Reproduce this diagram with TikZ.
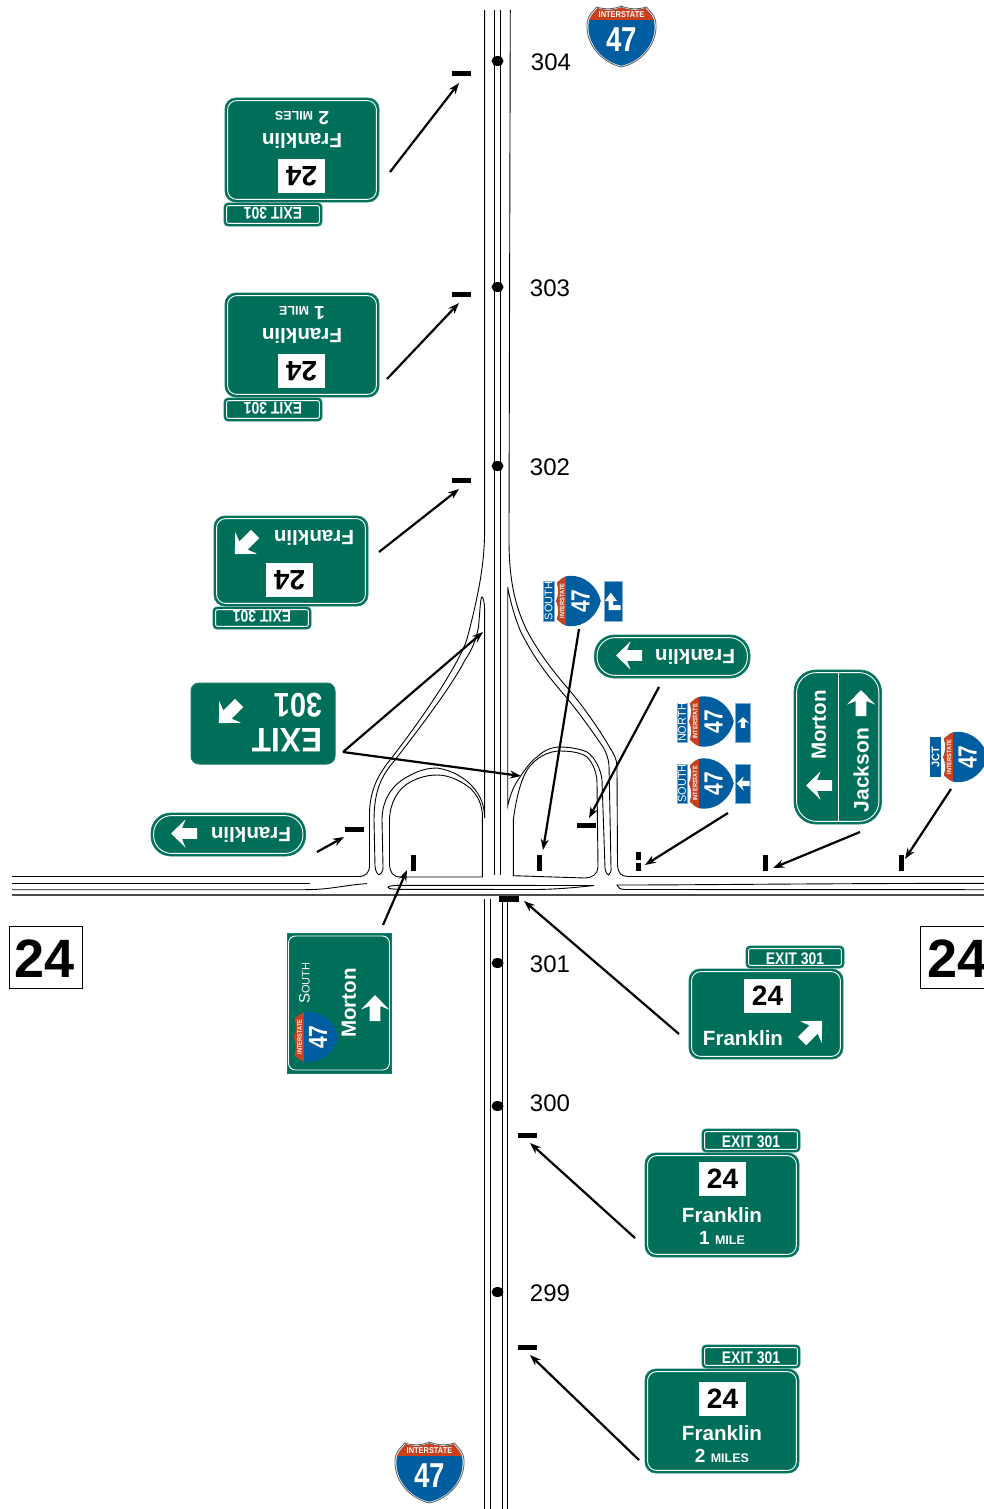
\documentclass[tikz,border=0pt]{standalone}
\usepackage{graphicx}
\usepackage{fontspec}
\setmainfont{Liberation Sans}
\usetikzlibrary{arrows.meta,shapes.geometric}
\definecolor{signgreen}{RGB}{0,111,89}
\definecolor{signedge}{RGB}{20,125,105}
\definecolor{ishieldblue}{RGB}{0,93,160}
\definecolor{ishieldred}{RGB}{200,64,30}
\definecolor{labeledge}{RGB}{130,175,215}
\newcommand{\fsz}[1]{\fontsize{#1}{#1}\selectfont}
\tikzset{
  road/.style={line width=0.9pt,black},
  pointer/.style={line width=2.2pt,black,-{Stealth[length=11pt,width=8pt]}},
  tickh/.style={fill=black,inner sep=0pt,minimum width=19pt,minimum height=5pt},
  tickv/.style={fill=black,inner sep=0pt,minimum width=5pt,minimum height=16pt},
  milelab/.style={font=\fsz{24},inner sep=0pt},
  milepost/.style={fill=black,ellipse,inner sep=0pt,minimum width=12pt,minimum height=10pt},
  signtext/.style={text=white,inner sep=0pt,font=\bfseries\fsz{20.6}},
  boxtext/.style={text=black,fill=white,inner sep=0pt,minimum width=47pt,minimum height=34pt,font=\bfseries\fsz{28}},
  exittext/.style={text=white,inner sep=0pt,font=\bfseries\fsz{16.8}},
  panel/.style={fill=signgreen,draw=signedge,line width=0.8pt},
  panelring/.style={draw=white,line width=0.9pt},
  routelabel/.style={text=white,inner sep=0pt,rotate=90,font=\fsz{11}},
  bigroute/.style={draw=black,line width=0.8pt,fill=white},
  bignum/.style={inner sep=0pt,font=\bfseries\fsz{54}},
}
% white block arrow, pointing up in local coordinates
\newcommand{\RSarrow}[4]{\begin{scope}[shift={(#1,#2)},rotate=#3,scale=#4]
  \fill[white] (0,-13) -- (14,1.5) -- (5.3,-2) -- (5.3,13) -- (-5.3,13) -- (-5.3,-2) -- (-14,1.5) -- cycle;
\end{scope}}
% panel with inner ring: x1 y1 x2 y2 radius
\newcommand{\RSpanel}[5]{%
  \pgfmathsetmacro{\xa}{#1+2.6}\pgfmathsetmacro{\ya}{#2+2.6}\pgfmathsetmacro{\xb}{#3-2.6}\pgfmathsetmacro{\yb}{#4-2.6}%
  \pgfmathsetmacro{\rr}{#5-2}%
  \draw[panel,rounded corners=#5pt] (#1,#2) rectangle (#3,#4);
  \draw[panelring,rounded corners=\rr pt] (\xa,\ya) rectangle (\xb,\yb);}
% interstate shield
\def\shieldpath{(-25,-29.5) .. controls (-17,-27) and (-8,-27) .. (0,-30.5) .. controls (8,-27) and (17,-27) .. (25,-29.5) .. controls (28,-25) and (34,-22) .. (34.5,-12) .. controls (35.5,8) and (20,26) .. (0,30.5) .. controls (-20,26) and (-35.5,8) .. (-34.5,-12) .. controls (-34,-22) and (-28,-25) .. (-25,-29.5) -- cycle}
\newcommand{\RSshield}[5]{\begin{scope}[shift={(#2,#3)},rotate=#4,scale=#5,transform shape]
  \fill[ishieldblue] \shieldpath;
  \begin{scope}\clip \shieldpath; \fill[ishieldred] (-40,-35) rectangle (40,-17); \end{scope}
  \node[inner sep=0pt,text=white] (#1i) at (0,-22.5) {\bfseries\fsz{8.8}\scalebox{0.88}[1]{INTERSTATE}};
  \node[inner sep=0pt,text=white] (#1n) at (0,3) {\bfseries\fsz{36}\scalebox{0.8}[1]{47}};
\end{scope}}
\newcommand{\RSoutline}[2]{\begin{scope}[shift={(#1,#2)},scale=1]
  \draw[black!65,line width=0.8pt] \shieldpath;
\end{scope}}
% exit sign, tall version: name x y rot text boxy franklin-y line3-y
\newcommand{\RSexit}[8]{\begin{scope}[shift={(#2,#3)},rotate=#4]
  \RSpanel{-20}{-76}{78}{-53}{4}
  \node[exittext,rotate=#4] (#1e) at (29,-63) {\scalebox{0.83}[1]{EXIT 301}};
  \RSpanel{-77}{-52}{77}{52}{11}
  \node[boxtext,rotate=#4] (#1b) at (0.5,#6) {24};
  \node[signtext,rotate=#4] (#1f) at (0,#7) {Franklin};
  \node[signtext,rotate=#4,font=\bfseries\fsz{19}] (#1m) at (0,#8) {#5};
\end{scope}}
% exit sign with arrow: name x y rot boxy franklin-y
\newcommand{\RSexitarrow}[6]{\begin{scope}[shift={(#2,#3)},rotate=#4]
  \RSpanel{-20}{-68}{78}{-46}{4}
  \node[exittext,rotate=#4] (#1e) at (29,-55.5) {\scalebox{0.83}[1]{EXIT 301}};
  \RSpanel{-77}{-45}{77}{45}{11}
  \node[boxtext,rotate=#4] (#1b) at (1.5,#5) {24};
  \node[signtext,rotate=#4] (#1f) at (-23,#6) {Franklin};
  \RSarrow{46}{17}{-45}{1.1}
\end{scope}}
\begin{document}
\begin{tikzpicture}[x=1pt,y=-1pt]
\useasboundingbox (0,0) rectangle (984,1509);
\clip (0,0) rectangle (984,1509);
\fill[white] (0,0) rectangle (984,1509);

% ---------- roads
% north-south main line
\draw[road] (494.2,10) -- (494.2,875);
\draw[road] (500.4,10) -- (500.4,875);
\draw[road] (484.6,899) -- (484.6,1509);
\draw[road] (490.7,899) -- (490.7,1509);
\draw[road] (502.6,899) -- (502.6,1509);
\draw[road] (507.7,899) -- (507.7,1509);
% west-east main line
\draw[road] (12,883.2) -- (310,883.2);
\draw[road] (12,889.7) -- (305,889.7) .. controls (330,889.7) and (345,885) .. (367,883.6);
\draw[road,line width=1.4pt,black!70] (12,894.8) -- (984,894.8);
% left outer edge with ramp
\draw[road] (484.6,10) -- (484.6,530) .. controls (484.6,560) and (480,590) .. (466.7,640)
  .. controls (458,665) and (425,715) .. (390,760)
  .. controls (378,775) and (370,790) .. (369.5,813)
  -- (369.5,865) .. controls (369.5,873) and (366,876.5) .. (358,876.5) -- (12,876.5);
% left ramp gore and outer loop
\draw[road] (484.6,818) -- (484.6,610) .. controls (484.6,602) and (483,597) .. (482,597)
  .. controls (480.5,597) and (480,610) .. (478.5,627)
  .. controls (476,640) and (472,650) .. (465,660)
  .. controls (455,680) and (430,715) .. (395,760)
  .. controls (382,775) and (374,790) .. (374,820)
  -- (375,866) .. controls (375.5,872) and (378,875) .. (379.3,874.5)
  .. controls (381,874) and (383.5,871) .. (383,866)
  -- (382,820) .. controls (382,800) and (392,785) .. (407,777)
  .. controls (417,771) and (427,768) .. (437,768)
  .. controls (452,770) and (465,778) .. (473,787)
  .. controls (480,795) and (484.6,805) .. (484.6,818);
% left inner loop
\draw[road] (389.5,865) .. controls (390,872) and (393,877) .. (400,877) -- (482.3,877) -- (482.3,813)
  .. controls (481,800) and (475,793) .. (470,788)
  .. controls (460,780) and (448,775) .. (437,775)
  .. controls (425,775) and (415,779) .. (407,784)
  .. controls (397,791) and (390,803) .. (389.5,820) -- cycle;
% right outer edge with ramp
\draw[road] (510.3,10) -- (509,530) .. controls (508.5,570) and (512,600) .. (526.7,630)
  .. controls (537,650) and (552,670) .. (566.7,687)
  .. controls (583,706) and (600,730) .. (613,753)
  .. controls (616,758) and (617,762) .. (617,770)
  -- (617.5,865) .. controls (618,873) and (621,876.5) .. (628,876.5) -- (984,876.5);
% right ramp gore and outer loop
\draw[road] (507.7,587) -- (507.7,806) .. controls (510,795) and (514,785) .. (520,777)
  .. controls (526,768) and (532,760) .. (537,757)
  .. controls (544,750) and (552,747) .. (560,747)
  .. controls (570,747) and (580,749) .. (587,752)
  .. controls (595,757) and (601,770) .. (602,780)
  -- (605,868) .. controls (605.5,872) and (607,874.5) .. (608.5,875)
  .. controls (610.5,874) and (611.5,871) .. (611,867)
  -- (609,765) .. controls (608,757) and (606,752) .. (603,747)
  .. controls (590,728) and (575,707) .. (560,690)
  .. controls (545,672) and (532,655) .. (520,630)
  .. controls (514,615) and (510,600) .. (507.7,587);
% right inner loop
\draw[road] (513.3,875.7) -- (513.3,820) .. controls (516,800) and (520,782) .. (527,770)
  .. controls (535,758) and (548,751) .. (560,751)
  .. controls (572,751) and (582,753) .. (587,757)
  .. controls (593,763) and (597,773) .. (597,783)
  -- (598,867) .. controls (598,874) and (592,878) .. (585,878) -- cycle;
% median wedges at the crossing
\draw[road] (594,885.5) -- (400,885.3) .. controls (392,885.5) and (388,886) .. (388,887.3)
  .. controls (388,888.5) and (392,889.3) .. (400,889.3) -- (535,889.5) .. controls (560,889.3) and (580,887) .. (594,885.5);
\draw[road] (984,883.3) .. controls (800,883.5) and (700,885) .. (617,885) .. controls (618,888) and (620,889.3) .. (625,889.5) -- (984,889.7);

% ---------- mileposts
\foreach \n/\yy in {a/61,b/287,c/466,d/963,e/1106,f/1292}
  \node[milepost] (post\n) at (497.5,\yy) {};
\node[milelab] (m304) at (551,62.5) {304};
\node[milelab] (m303) at (550,288.5) {303};
\node[milelab] (m302) at (550,467.5) {302};
\node[milelab] (m301) at (550,964.5) {301};
\node[milelab] (m300) at (550,1103.5) {300};
\node[milelab] (m299) at (550,1293.5) {299};

% ---------- sign position ticks
\node[tickh] (t1) at (461,73.5) {};
\node[tickh] (t2) at (461,294) {};
\node[tickh] (t3) at (461,480.5) {};
\node[tickh] (t6) at (354.5,829.5) {};
\node[tickh] (t8) at (586.5,825) {};
\node[tickh] (t14) at (527.5,1135) {};
\node[tickh] (t15) at (527.5,1347.5) {};
\node[tickh,minimum width=20pt,minimum height=6pt] (t13) at (508.5,898.5) {};
\node[tickv] (t12) at (413,863) {};
\node[tickv] (t7) at (539,863) {};
\node[tickv,minimum height=8pt] (t9a) at (638,856) {};
\node[tickv,minimum height=8pt] (t9b) at (638,867) {};
\node[tickv] (t10) at (765,863) {};
\node[tickv] (t11) at (901,863) {};

% ---------- pointers
\coordinate (p1s) at (390,172);   \coordinate (p1e) at (459,83);
\coordinate (p2s) at (387,379);   \coordinate (p2e) at (459,303);
\coordinate (p3s) at (379,552);   \coordinate (p3e) at (459,489);
\coordinate (p4s) at (343,752);   \coordinate (p4e) at (483,632);   \coordinate (p5e) at (521,776);
\coordinate (p6s) at (317,852);   \coordinate (p6e) at (344,837);
\coordinate (p7s) at (579,629);   \coordinate (p7e) at (543,850);
\coordinate (p8s) at (659,687);   \coordinate (p8e) at (589,818);
\coordinate (p9s) at (728,813);   \coordinate (p9e) at (645,865);
\coordinate (p10s) at (860,832);  \coordinate (p10e) at (773,868);
\coordinate (p11s) at (951,789);  \coordinate (p11e) at (905,859);
\coordinate (p12s) at (383,925);  \coordinate (p12e) at (407,870);
\coordinate (p13s) at (679,1034); \coordinate (p13e) at (524,901);
\coordinate (p14s) at (635,1238); \coordinate (p14e) at (530,1143);
\coordinate (p15s) at (639,1460); \coordinate (p15e) at (530,1355);
\foreach \s/\e in {p1s/p1e,p2s/p2e,p3s/p3e,p4s/p4e,p4s/p5e,p6s/p6e,p7s/p7e,p8s/p8e,p9s/p9e,p10s/p10e,p11s/p11e,p12s/p12e,p13s/p13e,p14s/p14e,p15s/p15e}
  \draw[pointer] (\s) -- (\e);

% ---------- route 24 panels
\node[bigroute,inner sep=0pt,minimum width=73pt,minimum height=62pt] (r24wbox) at (45.5,957) {};
\node[bignum] (r24w) at (45,959) {24};
\node[bigroute,inner sep=0pt,minimum width=73pt,minimum height=62pt] (r24ebox) at (956.5,957) {};
\node[bignum] (r24e) at (957.5,959) {24};

% ---------- interstate shields (upright)
\RSshield{sN}{621.5}{36.5}{0}{0.96}
\RSoutline{621.5}{36.5}
\RSshield{sS}{429.5}{1472.5}{0}{0.96}
\RSoutline{429.5}{1472.5}

% ---------- exit signs
\RSexit{ga}{302}{150}{180}{2 {\fsz{12.5}MILES}}{-26}{9}{32}
\RSexit{gb}{302}{345}{180}{1 {\fsz{12.5}MILE}}{-26}{9}{32}
\RSexitarrow{gc}{291}{561}{180}{-19}{23}
\RSexitarrow{gd}{766}{1014}{0}{-18}{24}
\RSexit{ge}{722}{1205}{0}{1 {\fsz{12.5}MILE}}{-26}{10}{33}
\RSexit{gf}{722}{1421}{0}{2 {\fsz{12.5}MILES}}{-22}{12}{35}

% ---------- large EXIT 301 sign
\begin{scope}[shift={(263,723.5)},rotate=180]
  \draw[panel,rounded corners=8pt,line width=1pt] (-72,-40.5) rectangle (72,40.5);
  \node[text=white,inner sep=0pt,rotate=180,font=\bfseries\fsz{34}] (x1) at (-24,-17) {\scalebox{0.93}[1]{EXIT}};
  \node[text=white,inner sep=0pt,rotate=180,font=\bfseries\fsz{34}] (x2) at (-35,18.5) {\scalebox{0.85}[1]{301}};
  \RSarrow{34}{10.5}{-45}{1.1}
\end{scope}

% ---------- Franklin pills
\RSpanel{594.5}{635}{750}{678}{20}
\node[signtext,rotate=180] (pa) at (695,657) {Franklin};
\RSarrow{629}{655.5}{90}{1}
\RSpanel{151}{813}{305.5}{856}{20}
\node[signtext,rotate=180] (pb) at (251,835) {Franklin};
\RSarrow{184}{833.5}{90}{1}

% ---------- Morton / Jackson
\RSpanel{794}{670}{881.5}{824}{22}
\draw[white,line width=1pt] (838.5,672.6) -- (838.5,821.4);
\node[signtext,rotate=90] (mj1) at (819,725) {Morton};
\node[signtext,rotate=90,font=\bfseries\fsz{21}] (mj2) at (861,770) {Jackson};
\RSarrow{819}{785.5}{90}{1}
\RSarrow{861}{703}{0}{1}

% ---------- South 47 / Morton overhead sign
\draw[panel] (287,933) rectangle (391.5,1073);
\draw[panelring,rounded corners=7pt] (288.5,936) rectangle (389.5,1070);
\node[text=white,inner sep=0pt,rotate=90] (ms1) at (304.5,983) {\fsz{15}S\fsz{11}OUTH};
\RSshield{ms}{316}{1037}{90}{0.73}
\node[signtext,rotate=90] (ms2) at (349,1003) {Morton};
\RSarrow{375}{1008}{0}{1}

% ---------- small route assemblies
\draw[fill=ishieldblue,draw=labeledge,line width=0.7pt] (543,581) rectangle (554,621);
\node[routelabel] (l1) at (548.5,601) {SOUTH};
\RSshield{a1}{578.5}{601}{90}{0.73}
\draw[fill=ishieldblue,draw=labeledge,line width=0.7pt] (604,581) rectangle (622,621);
\fill[white] (610.7,592.5) -- (617,601) -- (613.2,601) -- (613.2,605) -- (620.5,605) -- (620.5,610) -- (608.5,610) -- (608.5,601) -- (604.8,601) -- cycle;

\draw[fill=ishieldblue,draw=labeledge,line width=0.7pt] (677,703) rectangle (687,742);
\node[routelabel] (l2) at (682,722.5) {NORTH};
\RSshield{a2}{711.5}{721.5}{90}{0.73}
\draw[fill=ishieldblue,draw=labeledge,line width=0.7pt] (735.5,703) rectangle (750,742);
\RSarrow{743}{722.5}{0}{0.42}

\draw[fill=ishieldblue,draw=labeledge,line width=0.7pt] (677,764) rectangle (687,803);
\node[routelabel] (l3) at (682,783.5) {SOUTH};
\RSshield{a3}{711.5}{783.5}{90}{0.73}
\draw[fill=ishieldblue,draw=labeledge,line width=0.7pt] (735.5,764) rectangle (750,803);
\RSarrow{743}{783.5}{90}{0.5}

\fill[ishieldblue] (930,737) rectangle (941,777);
\node[routelabel,font=\bfseries\fsz{11}] (l4) at (935.5,757) {JCT};
\RSshield{a4}{965.5}{757}{90}{0.73}
\end{tikzpicture}
\end{document}
